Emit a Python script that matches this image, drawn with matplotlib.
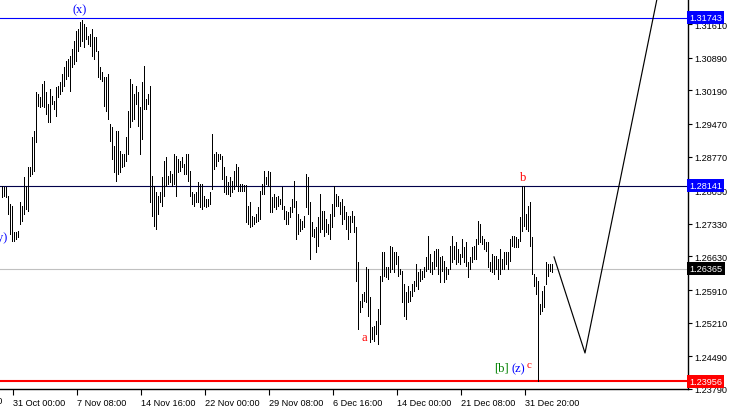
import numpy as np
import matplotlib
matplotlib.use("Agg")
import matplotlib.pyplot as plt

# H4 bars, high / low per bar (oldest first)
highs = [
    1.2814, 1.2812, 1.2812, 1.2793, 1.2776, 1.2771, 1.2716, 1.2716, 1.2718, 1.2780,
    1.2771, 1.2833, 1.2814, 1.2855, 1.2855, 1.2919, 1.2932, 1.3016, 1.3011, 1.3005,
    1.3033, 1.3039, 1.3016, 1.2990, 1.3022, 1.3007, 1.2996, 1.3026, 1.3029, 1.3037,
    1.3054, 1.3069, 1.3082, 1.3086, 1.3093, 1.3108, 1.3125, 1.3146, 1.3151, 1.3166,
    1.3170, 1.3161, 1.3155, 1.3136, 1.3140, 1.3151, 1.3134, 1.3134, 1.3104, 1.3069,
    1.3059, 1.3048, 1.3048, 1.3054, 1.2947, 1.2941, 1.2900, 1.2932, 1.2932, 1.2889,
    1.2883, 1.2883, 1.2919, 1.2975, 1.3044, 1.3033, 1.3011, 1.3029, 1.3016,
    1.2983, 1.3037, 1.3071, 1.3001, 1.3011, 1.3029, 1.2836, 1.2814, 1.2801, 1.2793,
    1.2801, 1.2833, 1.2868, 1.2876, 1.2836, 1.2846, 1.2840, 1.2883, 1.2878, 1.2872,
    1.2868, 1.2876, 1.2861, 1.2883, 1.2883, 1.2846, 1.2801, 1.2797, 1.2801, 1.2823,
    1.2818, 1.2818, 1.2793, 1.2786, 1.2786, 1.2801, 1.2926, 1.2883, 1.2887, 1.2883,
    1.2883, 1.2878, 1.2855, 1.2836, 1.2823, 1.2833, 1.2825, 1.2846, 1.2861, 1.2855,
    1.2818, 1.2818, 1.2816, 1.2816, 1.2771, 1.2780, 1.2750, 1.2748, 1.2754, 1.2769,
    1.2803, 1.2818, 1.2846, 1.2833, 1.2846, 1.2844, 1.2790, 1.2797, 1.2790, 1.2793,
    1.2786, 1.2812, 1.2771, 1.2761, 1.2758, 1.2769, 1.2786, 1.2825, 1.2782, 1.2754,
    1.2743, 1.2739, 1.2750, 1.2840, 1.2833, 1.2780, 1.2737, 1.2722, 1.2726, 1.2748,
    1.2797, 1.2761, 1.2761, 1.2743, 1.2733, 1.2754, 1.2776, 1.2814, 1.2797, 1.2793,
    1.2780, 1.2786, 1.2771, 1.2758, 1.2750, 1.2750, 1.2761, 1.2750, 1.2726, 1.2651,
    1.2568, 1.2583, 1.2587, 1.2640, 1.2636, 1.2576, 1.2512, 1.2514, 1.2525, 1.2550,
    1.2621, 1.2673, 1.2673, 1.2640, 1.2640, 1.2685, 1.2683, 1.2673, 1.2673, 1.2664,
    1.2636, 1.2632, 1.2604, 1.2587, 1.2600, 1.2589, 1.2604, 1.2610, 1.2647, 1.2630,
    1.2636, 1.2632, 1.2640, 1.2662, 1.2707, 1.2668, 1.2651, 1.2675, 1.2679, 1.2679,
    1.2662, 1.2664, 1.2653, 1.2640, 1.2636, 1.2685, 1.2707, 1.2685, 1.2694, 1.2679,
    1.2668, 1.2700, 1.2683, 1.2694, 1.2651, 1.2662, 1.2683, 1.2685, 1.2700, 1.2739,
    1.2733, 1.2707, 1.2700, 1.2694, 1.2694, 1.2651, 1.2668, 1.2664, 1.2664, 1.2658,
    1.2679, 1.2658, 1.2673, 1.2673, 1.2673, 1.2700, 1.2707, 1.2707, 1.2705, 1.2700,
    1.2748, 1.2814, 1.2814, 1.2754, 1.2771, 1.2780, 1.2705, 1.2625, 1.2619, 1.2610,
    1.2561, 1.2589, 1.2600, 1.2651, 1.2647, 1.2647, 1.2647,
]
lows = [
    1.2790, 1.2793, 1.2790, 1.2754, 1.2711, 1.2696, 1.2696, 1.2700, 1.2705, 1.2733,
    1.2739, 1.2754, 1.2765, 1.2761, 1.2836, 1.2840, 1.2846, 1.2908, 1.2986, 1.2983,
    1.2986, 1.2983, 1.2969, 1.2951, 1.2951, 1.2990, 1.2979, 1.2964, 1.3005, 1.3011,
    1.3018, 1.3029, 1.3044, 1.3050, 1.3018, 1.3069, 1.3076, 1.3082, 1.3104, 1.3114,
    1.3125, 1.3112, 1.3129, 1.3119, 1.3114, 1.3093, 1.3086, 1.3104, 1.3048, 1.3044,
    1.3039, 1.2986, 1.2975, 1.2958, 1.2911, 1.2872, 1.2844, 1.2825, 1.2840, 1.2844,
    1.2855, 1.2857, 1.2868, 1.2883, 1.2941, 1.2953, 1.2958, 1.2990, 1.2943,
    1.2883, 1.2915, 1.2979, 1.2979, 1.2990, 1.2780, 1.2750, 1.2728, 1.2722, 1.2754,
    1.2780, 1.2771, 1.2793, 1.2814, 1.2818, 1.2823, 1.2814, 1.2818, 1.2793, 1.2844,
    1.2846, 1.2855, 1.2840, 1.2840, 1.2825, 1.2793, 1.2776, 1.2771, 1.2780, 1.2780,
    1.2769, 1.2765, 1.2771, 1.2769, 1.2771, 1.2776, 1.2808, 1.2851, 1.2857, 1.2868,
    1.2872, 1.2829, 1.2801, 1.2797, 1.2797, 1.2793, 1.2801, 1.2808, 1.2814, 1.2803,
    1.2803, 1.2803, 1.2803, 1.2737, 1.2733, 1.2726, 1.2728, 1.2733, 1.2737, 1.2739,
    1.2743, 1.2797, 1.2797, 1.2818, 1.2814, 1.2758, 1.2758, 1.2769, 1.2765, 1.2771,
    1.2776, 1.2765, 1.2743, 1.2733, 1.2733, 1.2748, 1.2758, 1.2769, 1.2700, 1.2711,
    1.2718, 1.2722, 1.2726, 1.2769, 1.2754, 1.2658, 1.2707, 1.2705, 1.2673, 1.2685,
    1.2716, 1.2722, 1.2707, 1.2716, 1.2711, 1.2700, 1.2726, 1.2750, 1.2771, 1.2771,
    1.2754, 1.2733, 1.2743, 1.2722, 1.2700, 1.2716, 1.2737, 1.2716, 1.2610, 1.2508,
    1.2544, 1.2555, 1.2568, 1.2565, 1.2535, 1.2480, 1.2486, 1.2482, 1.2497, 1.2475,
    1.2518, 1.2610, 1.2621, 1.2619, 1.2615, 1.2630, 1.2636, 1.2630, 1.2647, 1.2621,
    1.2625, 1.2565, 1.2535, 1.2529, 1.2565, 1.2568, 1.2578, 1.2589, 1.2600, 1.2593,
    1.2610, 1.2615, 1.2619, 1.2632, 1.2636, 1.2630, 1.2625, 1.2636, 1.2643, 1.2625,
    1.2608, 1.2632, 1.2608, 1.2615, 1.2625, 1.2636, 1.2651, 1.2658, 1.2647, 1.2651,
    1.2647, 1.2662, 1.2651, 1.2643, 1.2619, 1.2636, 1.2651, 1.2658, 1.2658, 1.2690,
    1.2694, 1.2690, 1.2679, 1.2675, 1.2640, 1.2632, 1.2630, 1.2625, 1.2636, 1.2615,
    1.2625, 1.2636, 1.2636, 1.2647, 1.2636, 1.2653, 1.2685, 1.2683, 1.2683, 1.2683,
    1.2696, 1.2718, 1.2728, 1.2722, 1.2718, 1.2685, 1.2625, 1.2600, 1.2583, 1.2396,
    1.2540, 1.2546, 1.2555, 1.2604, 1.2621, 1.2632, 1.2630,
]

# horizontal levels: (price, line colour, label box colour)
levels = [
    (1.31743, "#0000ff", "#0000ff"),
    (1.28141, "#00004a", "#0000ff"),
    (1.26365, "#c0c0c0", "#000000"),
    (1.23956, "#ff0000", "#ff0000"),
]

y_ticks = [1.31610, 1.30890, 1.30190, 1.29470, 1.28770, 1.28050,
           1.27330, 1.26630, 1.25910, 1.25210, 1.24490, 1.23790]
date_labels = ["21 Oct 16:00", "31 Oct 00:00", "7 Nov 08:00", "14 Nov 16:00",
               "22 Nov 00:00", "29 Nov 08:00", "6 Dec 16:00", "14 Dec 00:00",
               "21 Dec 08:00", "31 Dec 20:00"]

# projected path (bar index, price)
path_bar = [276, 291.5, 330]
path_price = [1.2662, 1.2456, 1.3268]

# wave labels: text, bar index, price, colour, size
wave_labels = [
    ("(x)", 39, 1.3194, "#0000ff", 9),
    ("(y)", -0.5, 1.2705, "#0000ff", 9),
    ("a", 181, 1.2490, "#ff0000", 9),
    ("b", 260.5, 1.2833, "#ff0000", 9),
    ("[b]", 249.5, 1.2424, "#008000", 9),
    ("(z)", 258, 1.2424, "#0000ff", 9),
    ("c", 263.5, 1.2432, "#ff0000", 8),
]

fig = plt.figure(figsize=(7.3, 4.1), dpi=100)
ax = fig.add_axes([0, 20 / 410, 688 / 730, 390 / 410])

bars = np.arange(len(highs))
ax.vlines(bars, lows, highs, color="black", linewidth=0.72, antialiased=False, zorder=3)

for price, lc, bc in levels:
    lw = 1.5 if lc == "#ff0000" else 0.8
    ax.axhline(price, color=lc, linewidth=lw, zorder=2)
    ax.text(1.002, price, f"{price:.5f}", transform=ax.get_yaxis_transform(),
            color="white", fontsize=6.6, family="Liberation Sans", va="center", ha="left",
            bbox=dict(boxstyle="square,pad=0.22", fc=bc, ec="none"),
            clip_on=False, zorder=10)

ax.plot(path_bar, path_price, color="black", linewidth=0.85, zorder=4)

for txt, bx, py, col, sz in wave_labels:
    ax.text(bx, py, txt, color=col, fontsize=sz, family="Liberation Serif",
            ha="center", va="center", zorder=6, clip_on=False)

ax.set_xlim(-1, 343)
ax.set_ylim(1.23788, 1.3215)

for s in ["top", "left"]:
    ax.spines[s].set_visible(False)
ax.spines["right"].set_linewidth(1.0)
ax.spines["bottom"].set_linewidth(1.0)

ax.yaxis.tick_right()
ax.set_yticks(y_ticks, [f"{v:.5f}" for v in y_ticks])
ax.tick_params(axis="y", direction="out", length=3, width=0.8, pad=1.5, labelsize=6.6)

tick_bars = np.arange(len(date_labels)) * 32 - 26.5
ax.set_xticks(tick_bars[1:], date_labels[1:])
ax.tick_params(axis="x", direction="out", length=4, width=0.8, pad=2.5, labelsize=6.6)
for lab in ax.get_xticklabels() + ax.get_yticklabels():
    lab.set_family("Liberation Sans")
for lab in ax.get_xticklabels():
    lab.set_horizontalalignment("left")
# label of the tick that falls left of the window
ax.text(tick_bars[0] + 0.5, -0.019, date_labels[0], transform=ax.get_xaxis_transform(),
        fontsize=6.6, family="Liberation Sans", ha="left", va="top", clip_on=False)

fig.savefig("out.png", dpi=100, facecolor="white")
